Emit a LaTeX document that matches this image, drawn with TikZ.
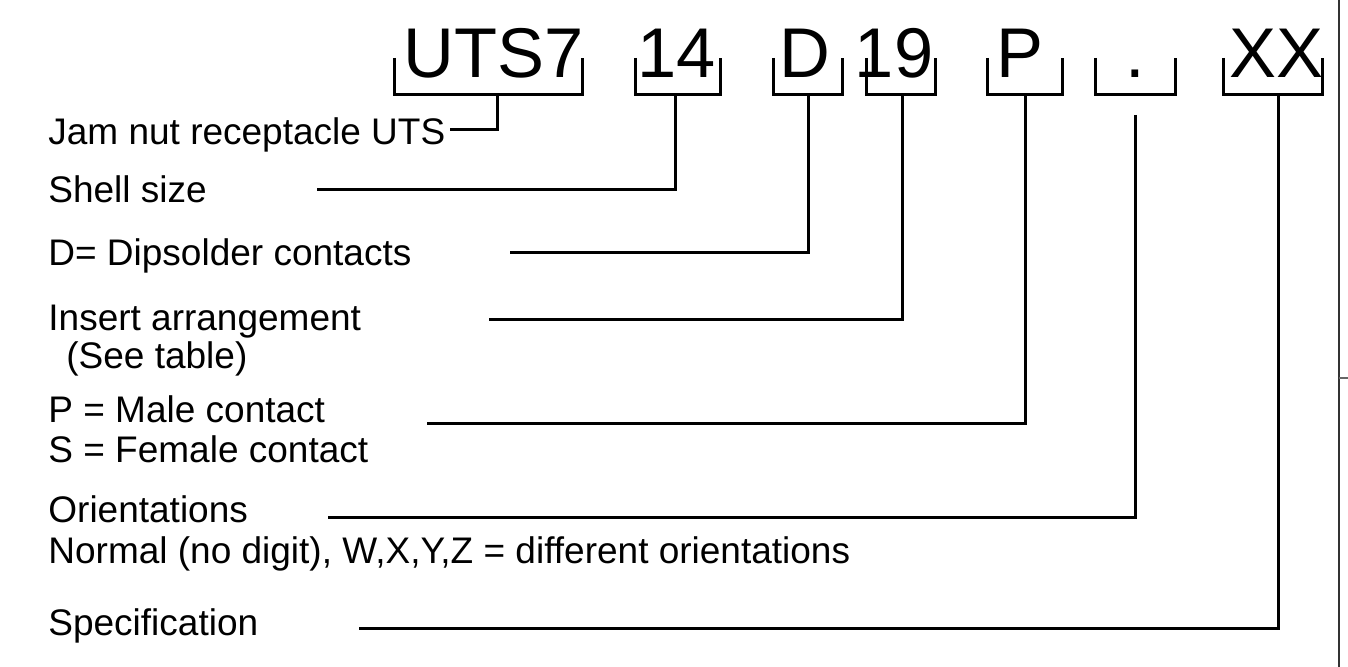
\documentclass[tikz,border=0pt]{standalone}
\usepackage{fontspec}
\setmainfont{Liberation Sans}
\tikzset{
  code/.style={font=\fontsize{35.2}{40}\selectfont, anchor=base, inner sep=0pt},
  lbl/.style={font=\fontsize{18.5}{22}\selectfont, anchor=base west, inner sep=0pt},
  lead/.style={line width=1.5pt},
}
\begin{document}
\begin{tikzpicture}[x=0.5pt,y=-0.5pt]
                \useasboundingbox (0,0) rectangle (1348,667);
                % the type code
                \node[code] (uts) at (493.5,78) {UTS7};
                \node[code] (size) at (677,78) {14};
                \node[code] (dip) at (804.5,78) {D};
                \node[code] (ins) at (894,78) {19};
                \node[code] (pin) at (1020,78) {P};
                \node[code] (ori) at (1135,78) {.};
                \node[code] (spec) at (1276.5,78) {XX};

                % brackets under the code, and the stem points
                \foreach \l/\r/\s/\n in {394/582/497/1, 635/720/675/2, 773/842/808/3, 866/935/902/4, 987/1062/1025/5, 1095/1175/1135/6, 1223/1322/1278/7}{
                    \draw[lead] (\l,58) |- (\r,95) -- (\r,58);
                    \coordinate (s\n) at (\s,95);
                }
                \coordinate (s6) at (1135,115);

                % the explanations
                \node[lbl] (jam) at (48,145) {Jam nut receptacle UTS};
                \node[lbl] (shell) at (48,203) {Shell size};
                \node[lbl] (dsold) at (48,266) {D= Dipsolder contacts};
                \node[lbl] (arr) at (48,331) {Insert arrangement};
                \node[lbl] (tab) at (66,369) {(See table)};
                \node[lbl] (male) at (48,423) {P = Male contact};
                \node[lbl] (fem) at (48,463) {S = Female contact};
                \node[lbl] (orient) at (48,523) {Orientations};
                \node[lbl] (norm) at (48,563) {Normal (no digit), W,X,Y,Z = different orientations};
                \node[lbl] (specif) at (48,635) {Specification};

                % leader lines
                \coordinate (e1) at (450,130);
                \coordinate (e2) at (317,190);
                \coordinate (e3) at (510,253);
                \coordinate (e4) at (489,320);
                \coordinate (e5) at (427,424);
                \coordinate (e6) at (328,517);
                \coordinate (e7) at (359,628);
                \foreach \n in {1,...,7}
                    \draw[lead] (s\n) |- (e\n);

                % edge of the table beside
                \draw[line width=1pt, black!80] (1339,0) -- (1339,667);
                \draw[line width=0.7pt, black!60] (1339,378) -- (1348,378);
            \end{tikzpicture}
\end{document}
